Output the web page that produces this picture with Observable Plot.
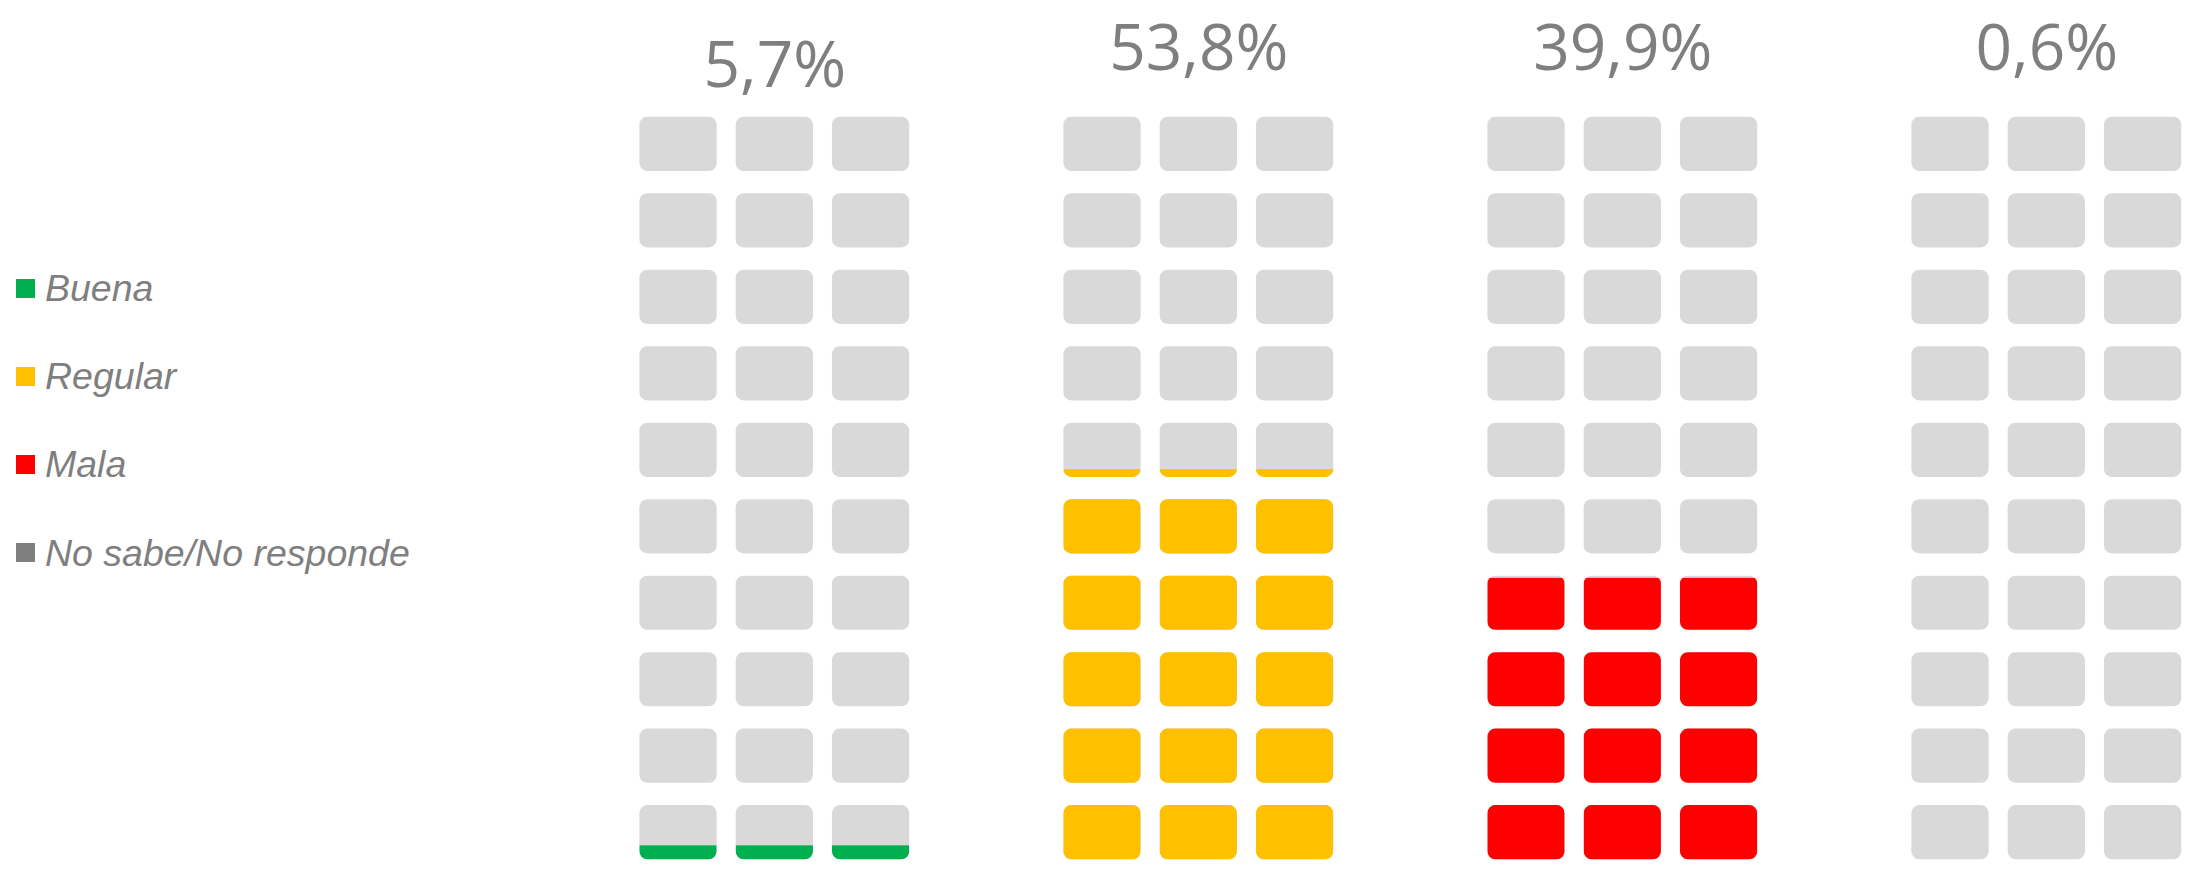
<!DOCTYPE html>
<html>
<head>
<meta charset="utf-8">
<script src="https://cdn.jsdelivr.net/npm/d3@7"></script>
<script src="https://cdn.jsdelivr.net/npm/@observablehq/plot@0.6"></script>
<style>
  html, body { margin: 0; padding: 0; background: #ffffff; }
  #wrap { position: relative; width: 2201px; height: 886px; overflow: hidden; }
  #legend .item { position: absolute; left: 16px; height: 40px; display: flex; align-items: center; white-space: nowrap; }
  #legend .sw { width: 19px; height: 19px; flex: none; }
  #legend .lab { margin-left: 10px; font: italic 37.5px "Liberation Sans", Arial, sans-serif; color: #7f7f7f; line-height: 40px; }
</style>
</head>
<body>
<div id="wrap"><div id="legend"></div></div>
<script>
// ---- data ----
const categories = ["Buena", "Regular", "Mala", "No sabe/No responde"];
const values = [5.7, 53.8, 39.9, 0.6];
const labels = ["5,7%", "53,8%", "39,9%", "0,6%"];
const legendColors = ["#00b050", "#ffc000", "#ff0000", "#7f7f7f"];

// ---- layout (pixels) ----
const W = 2201, H = 886;
const Y0 = 889.9, K = 7.82;              // y pixel of 0 %, pixels per %
const pxToV = px => (Y0 - px) / K;
const X0 = 562.3, GW = 424;              // group spacing
const SUB = 96.3, HALF = 38.65;          // tile pitch / half width
const ROWS = 10, COLS = 3;
const TILE_BOTTOM = 859.3, TILE_H = 54.2, ROW_PITCH = 76.48;
const TILE_GREY = "#d9d9d9";
const LABEL_BASE = [86, 69, 69, 69];
const FS = 64;

const colX = (g, c) => [g + 0.5 + ((c - 1) * SUB - HALF) / GW, g + 0.5 + ((c - 1) * SUB + HALF) / GW];

const tiles = [];
categories.forEach((cat, g) => {
  for (let i = 0; i < ROWS; i++) for (let c = 0; c < COLS; c++) {
    const [x1, x2] = colX(g, c);
    tiles.push({g, i, c, x1, x2,
      y1: pxToV(TILE_BOTTOM - i * ROW_PITCH),
      y2: pxToV(TILE_BOTTOM - i * ROW_PITCH - TILE_H)});
  }
});
const fills = [];
categories.forEach((cat, g) => {
  for (let c = 0; c < COLS; c++) {
    const [x1, x2] = colX(g, c);
    fills.push({g, c, x1, x2, v: values[g], color: legendColors[g]});
  }
});
const labelData = labels.map((t, g) => ({g, t, y: pxToV(LABEL_BASE[g] - 0.32 * FS)}));

const svg = Plot.plot({
  width: W, height: H,
  x: {domain: [0, 4], range: [X0, X0 + 4 * GW], axis: null},
  y: {domain: [0, 100], range: [Y0, Y0 - 100 * K], axis: null},
  style: {background: "#ffffff", overflow: "visible"},
  marks: [
    Plot.rect(tiles, {x1: "x1", x2: "x2", y1: "y1", y2: "y2", fill: TILE_GREY, rx: 8}),
    Plot.rect(fills, {x1: "x1", x2: "x2", y1: () => 0, y2: "v", fill: "color"}),
    Plot.text(labelData, {x: d => d.g + 0.5, y: "y", text: "t", fontSize: FS, fill: "#7f7f7f",
      fontFamily: "'Open Sans', 'Noto Sans', sans-serif", textAnchor: "middle"})
  ]
});

// clip colored fills to the tile shapes
const s = d3.select(svg);
const rectGroups = s.selectAll('g[aria-label="rect"]').nodes();
const defs = s.insert("defs", ":first-child");
const cp = defs.append("clipPath").attr("id", "tile-clip");
d3.select(rectGroups[0]).selectAll("rect").each(function() { cp.node().appendChild(this.cloneNode(false)); });
d3.select(rectGroups[1]).attr("clip-path", "url(#tile-clip)");

const wrap = document.getElementById("wrap");
wrap.insertBefore(svg, wrap.firstChild);
svg.style.position = "absolute";
svg.style.left = "0px";
svg.style.top = "0px";

// legend (left side)
const legendTops = [268, 356.2, 444.4, 532.6];
const items = d3.select("#legend").selectAll("div.item").data(categories).join("div")
  .attr("class", "item").style("top", (d, i) => legendTops[i] + "px");
items.append("span").attr("class", "sw").style("background", (d, i) => legendColors[i]);
items.append("span").attr("class", "lab").text(d => d);
</script>
</body>
</html>
